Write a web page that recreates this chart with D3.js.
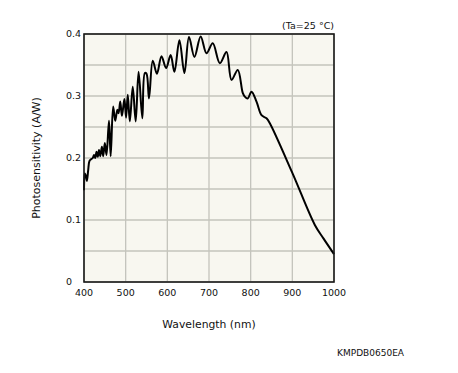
<!DOCTYPE html>
<html>
<head>
<meta charset="utf-8">
<script src="https://cdn.jsdelivr.net/npm/d3@7"></script>
<style>
  body { margin: 0; background: #fff; }
  text { font-family: "DejaVu Sans", sans-serif; fill: #111; }
</style>
</head>
<body>
<div id="my_dataviz"></div>
<script>
// data
var wavelength = [400, 402, 405, 407, 410, 413, 417, 421, 424, 427, 430, 433, 436, 439, 443, 446,
    450, 454, 460, 464, 470, 475, 480, 483, 487, 491, 497, 501, 505, 510, 517, 524, 531, 540,
    546, 550, 556, 565, 575, 586, 597, 608, 617, 629, 641, 652, 665, 680, 694, 709, 726, 742,
    754, 769, 781, 786, 793, 802, 814, 826, 838, 846, 900, 954, 975, 1000];
var sensitivity = [0.148, 0.175, 0.170, 0.163, 0.180, 0.195, 0.198, 0.200, 0.205, 0.200, 0.210, 0.202, 0.213, 0.203, 0.218, 0.203,
    0.224, 0.205, 0.260, 0.203, 0.283, 0.260, 0.278, 0.272, 0.291, 0.268, 0.295, 0.265, 0.302, 0.259, 0.315, 0.259, 0.339, 0.264,
    0.337, 0.336, 0.296, 0.357, 0.336, 0.364, 0.345, 0.366, 0.339, 0.390, 0.337, 0.395, 0.363, 0.396, 0.369, 0.385, 0.353, 0.371,
    0.326, 0.342, 0.305, 0.299, 0.296, 0.307, 0.291, 0.269, 0.264, 0.256, 0.176, 0.092, 0.070, 0.045];
var xTicks = [400, 500, 600, 700, 800, 900, 1000];
var yTicks = [0, 0.1, 0.2, 0.3, 0.4];
var yGrid = [0, 0.05, 0.1, 0.15, 0.2, 0.25, 0.3, 0.35, 0.4];

var margin = { top: 34, right: 124, bottom: 91, left: 84 },
    width = 458 - margin.left - margin.right,
    height = 373 - margin.top - margin.bottom;

var root = d3.select("#my_dataviz")
    .append("svg")
    .attr("width", 458)
    .attr("height", 373);

var svg = root.append("g")
    .attr("transform", "translate(" + margin.left + "," + margin.top + ")");

var x = d3.scaleLinear().domain([400, 1000]).range([0, width]);
var y = d3.scaleLinear().domain([0, 0.4]).range([height, 0]);

// plot background
svg.append("rect")
    .attr("width", width)
    .attr("height", height)
    .attr("fill", "#f8f7f0");

// grid
svg.append("g")
    .selectAll("line")
    .data(xTicks)
    .enter()
    .append("line")
    .attr("x1", function (d) { return x(d); })
    .attr("x2", function (d) { return x(d); })
    .attr("y1", 0)
    .attr("y2", height)
    .attr("stroke", "#c4c4bc")
    .attr("stroke-width", 1.3);
svg.append("g")
    .selectAll("line")
    .data(yGrid)
    .enter()
    .append("line")
    .attr("x1", 0)
    .attr("x2", width)
    .attr("y1", function (d) { return y(d); })
    .attr("y2", function (d) { return y(d); })
    .attr("stroke", "#c4c4bc")
    .attr("stroke-width", 1.3);

// curve
var pts = wavelength.map(function (w, i) { return [w, sensitivity[i]]; });
svg.append("path")
    .datum(pts)
    .attr("fill", "none")
    .attr("stroke", "#000")
    .attr("stroke-width", 2)
    .attr("stroke-linejoin", "round")
    .attr("d", d3.line()
        .x(function (d) { return x(d[0]); })
        .y(function (d) { return y(d[1]); })
        .curve(d3.curveCatmullRom.alpha(0.5)));

// frame
svg.append("rect")
    .attr("width", width)
    .attr("height", height)
    .attr("fill", "none")
    .attr("stroke", "#1a1a1a")
    .attr("stroke-width", 1.6);

// tick labels
svg.append("g")
    .selectAll("text")
    .data(xTicks)
    .enter()
    .append("text")
    .attr("x", function (d) { return x(d); })
    .attr("y", height + 14)
    .style("text-anchor", "middle")
    .style("font-size", "9.5px")
    .text(function (d) { return d; });
svg.append("g")
    .selectAll("text")
    .data(yTicks)
    .enter()
    .append("text")
    .attr("x", -18)
    .attr("y", function (d) { return y(d); })
    .attr("dy", "0.35em")
    .style("text-anchor", "start")
    .style("font-size", "9.5px")
    .text(function (d) { return d === 0 ? "0" : d.toFixed(1); });

// axis titles
svg.append("text")
    .attr("x", width / 2)
    .attr("y", height + 46)
    .style("text-anchor", "middle")
    .style("font-size", "10.8px")
    .text("Wavelength (nm)");
svg.append("text")
    .attr("transform", "translate(-44," + (height / 2) + ") rotate(-90)")
    .style("text-anchor", "middle")
    .style("font-size", "11px")
    .text("Photosensitivity (A/W)");

// notes
svg.append("text")
    .attr("x", width)
    .attr("y", -5)
    .style("text-anchor", "end")
    .style("font-size", "9.5px")
    .text("(Ta=25 °C)");
root.append("text")
    .attr("x", 404)
    .attr("y", 356)
    .style("text-anchor", "end")
    .style("font-size", "9px")
    .text("KMPDB0650EA");
</script>
</body>
</html>
